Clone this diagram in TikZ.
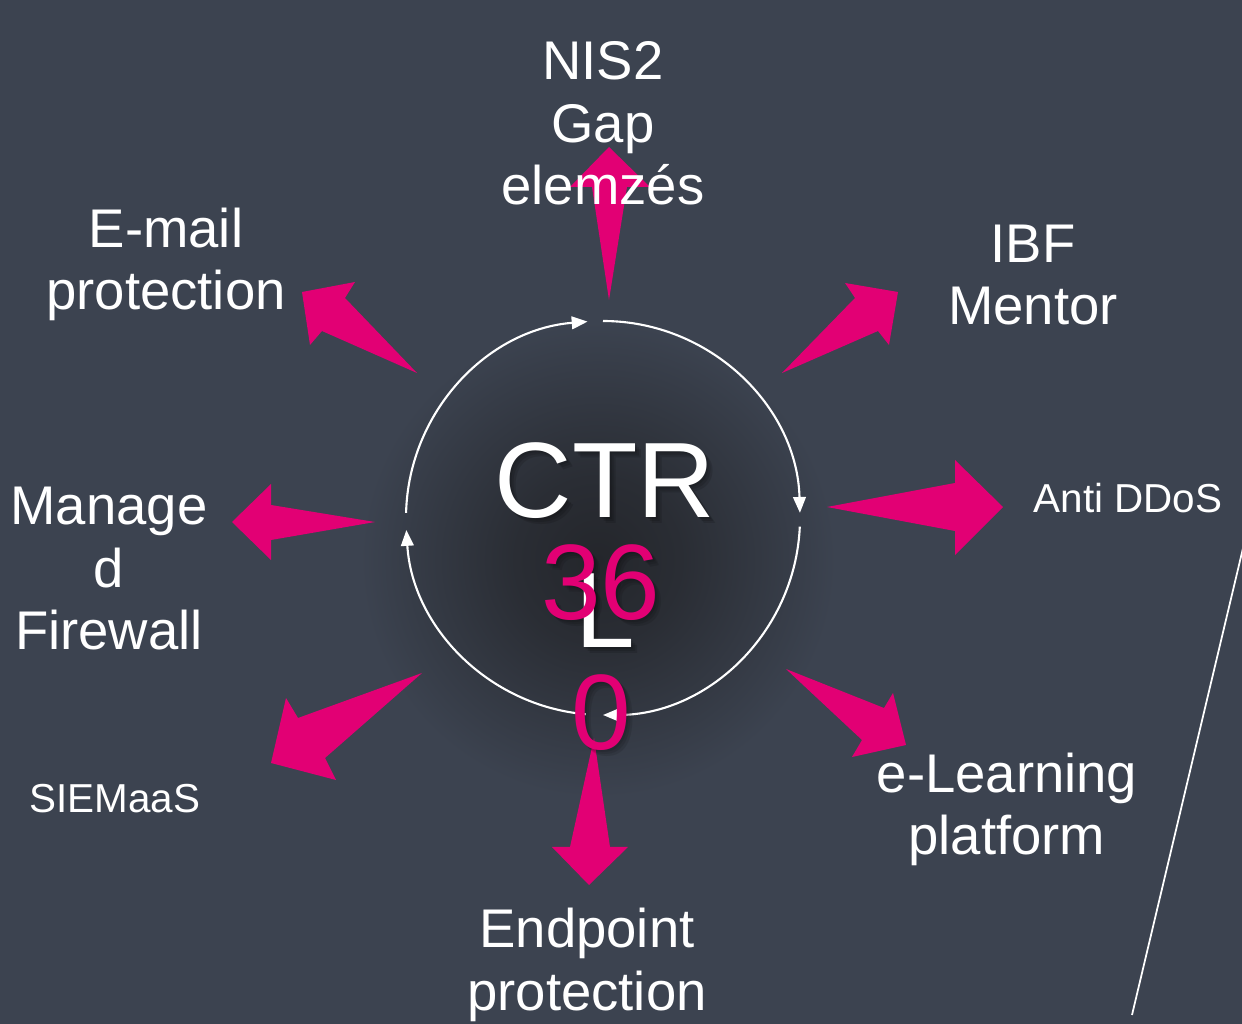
\documentclass[tikz,border=0pt]{standalone}
\usepackage{fontspec}
\setmainfont{Liberation Sans}
\usetikzlibrary{arrows.meta}

\definecolor{slide}{HTML}{3C4350}
\definecolor{tmagenta}{HTML}{E20074}
\definecolor{glow}{HTML}{24262B}

% dark spot that fades into the slide colour
\pgfdeclareradialshading{titleglow}{\pgfpoint{0bp}{0bp}}{%
  color(0bp)=(glow); color(3bp)=(glow!75!slide); color(8.5bp)=(slide); color(50bp)=(slide)}

\tikzset{
  topic/.style={text=white, align=center, anchor=base, inner sep=0pt,
    font=\fontsize{15.5}{17.9}\selectfont},
  smalltopic/.style={topic, font=\fontsize{11.5}{13}\selectfont},
  bigtext/.style={align=center, anchor=base, inner sep=0pt,
    font=\fontsize{30.5}{37}\selectfont},
  blockarrow/.style={fill=tmagenta},
  cyclearc/.style={white, line width=0.6pt, -{Triangle[length=4.5pt,width=3.6pt]}}
}

\begin{document}
\begin{tikzpicture}[x=0.1mm, y=-0.1mm]

% slide background, with a dark glow behind the title
\fill[slide] (0,0) rectangle (1242,1024);
\useasboundingbox (0,0) rectangle (1242,1024);
\shade[shading=titleglow] (-102,-140) rectangle (1298,1260);

% thin divider line on the right
\draw[white, line width=0.5pt] (1244,544) -- (1132,1015);

% the cycle: four arcs, each ending in an arrow
\coordinate (ring) at (603,518);
\draw[cyclearc] ([shift={(-90:197)}]ring) arc[start angle=-90, end angle=-1.5, radius=197];
\draw[cyclearc] ([shift={(2.5:197)}]ring) arc[start angle=2.5, end angle=90, radius=197];
\draw[cyclearc] ([shift={(95:197)}]ring) arc[start angle=95, end angle=176.5, radius=197];
\draw[cyclearc] ([shift={(-178.5:197)}]ring) arc[start angle=-178.5, end angle=-94.5, radius=197];

% magenta block arrows, tail at the ring, head at the topic
\fill[blockarrow] (609,300) -- (627,187) -- (650,187) -- (609,147) -- (570,187) -- (592,187) -- cycle; % up
\fill[blockarrow] (782,373) -- (855,298) -- (845,283) -- (898,292) -- (889,345) -- (878,331) -- cycle; % up right
\fill[blockarrow] (827,507) -- (955,483) -- (955,460) -- (1003,507) -- (955,555) -- (955,531) -- cycle; % right
\fill[blockarrow] (786,669) -- (884,708) -- (893,693) -- (906,745) -- (852,757) -- (862,740) -- cycle; % down right
\fill[blockarrow] (594,738) -- (610,847) -- (628,847) -- (589,885) -- (552,847) -- (570,847) -- cycle; % down
\fill[blockarrow] (422,673) -- (325,758) -- (336,780) -- (271,763) -- (286,698) -- (298,718) -- cycle; % down left
\fill[blockarrow] (375,522) -- (271,540) -- (271,560) -- (232,522) -- (271,484) -- (271,505) -- cycle; % left
\fill[blockarrow] (417,373) -- (322,331) -- (310,345) -- (302,292) -- (355,282) -- (345,298) -- cycle; % up left

% topics (placed at the baseline of their last line)
\node[topic] (nis) at (603,205) {NIS2\\Gap\\elemzés};
\node[topic] (ibf) at (1033,325) {IBF\\Mentor};
\node[smalltopic] (ddos) at (1128,513) {Anti DDoS};
\node[topic] (elearn) at (1007,855) {e-Learning\\platform};
\node[topic] (epp) at (587,1010) {Endpoint\\protection};
\node[smalltopic] (siem) at (115,813) {SIEMaaS};
\node[topic] (fw) at (109,650) {Manage\\d\\Firewall};
\node[topic] (email) at (166,310) {E-mail\\protection};

% title in the middle, soft shadow first
\foreach \d in {2,4,6} {
  \node[bigtext, text=black, opacity=0.12] at ({605+\d},{648+\d}) {CTR\\L};
  \node[bigtext, text=black, opacity=0.10] at ({601+\d},{750+\d}) {36\\0};
}
\node[bigtext, text=white] (ctr) at (605,648) {CTR\\L};
\node[bigtext, text=tmagenta] (deg) at (601,750) {36\\0};

\end{tikzpicture}
\end{document}
